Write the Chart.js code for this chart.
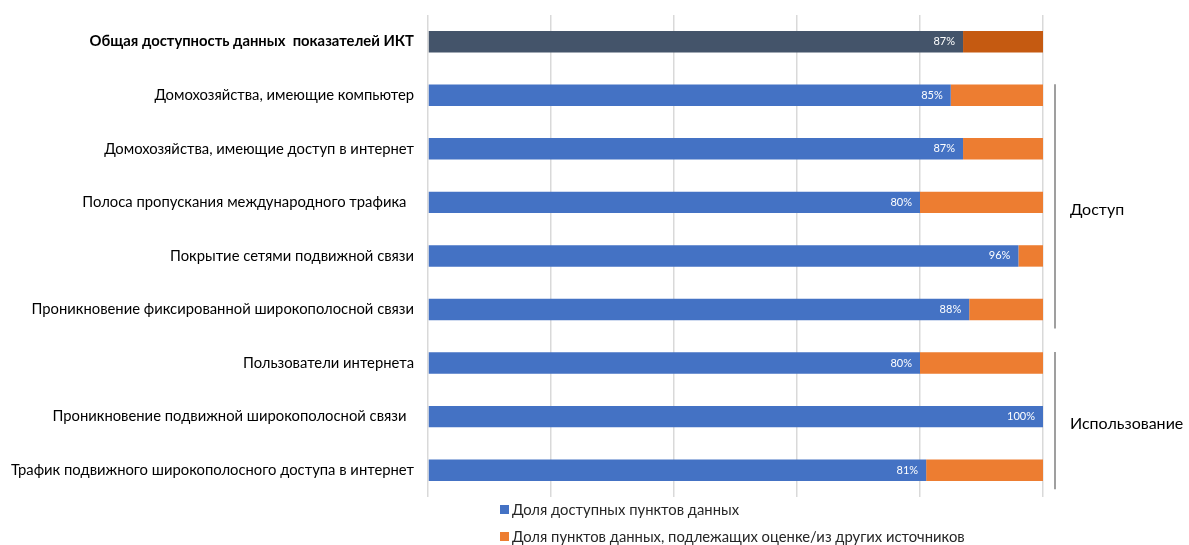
<!DOCTYPE html>
<html>
<head>
<meta charset="utf-8">
<script src="https://cdn.jsdelivr.net/npm/chart.js@4"></script>
<style>
  html, body { margin: 0; padding: 0; background: #fff; }
  #wrap { width: 1189px; height: 545px; }
</style>
</head>
<body>
<div id="wrap"><canvas id="ict_chart"></canvas></div>
<script>
labels = [
  'Общая доступность данных  показателей ИКТ',
  'Домохозяйства, имеющие компьютер',
  'Домохозяйства, имеющие доступ в интернет',
  'Полоса пропускания международного трафика  ',
  'Покрытие сетями подвижной связи',
  'Проникновение фиксированной широкополосной связи',
  'Пользователи интернета',
  'Проникновение подвижной широкополосной связи  ',
  'Трафик подвижного широкополосного доступа в интернет'
]
available = [87, 85, 87, 80, 96, 88, 80, 100, 81]
estimated = [13, 15, 13, 20, 4, 12, 20, 0, 19]
seriesNames = ['Доля доступных пунктов данных', 'Доля пунктов данных, подлежащих оценке/из других источников']
groups = [
  { text: 'Доступ', from: 1, to: 5 },
  { text: 'Использование', from: 6, to: 8 }
]

FONT = 'Lato, "Open Sans", sans-serif'

extras = {
  id: 'extras',
  afterDatasetsDraw(chart) {
    const c = chart.ctx
    const y = chart.scales.y
    // value labels inside the blue bars
    c.save()
    c.font = '11px ' + FONT
    c.fillStyle = '#ffffff'
    c.textAlign = 'right'
    c.textBaseline = 'middle'
    chart.getDatasetMeta(0).data.forEach((bar, i) => {
      c.fillText(available[i] + '%', bar.x - 8, bar.y)
    })
    // group brackets on the right
    c.strokeStyle = '#7f7f7f'
    c.lineWidth = 1.5
    c.fillStyle = '#000'
    c.textAlign = 'left'
    c.font = '16px ' + FONT
    groups.forEach(g => {
      const top = y.getPixelForValue(g.from) - 11
      const bot = y.getPixelForValue(g.to) + 19
      c.beginPath()
      c.moveTo(1055, top)
      c.lineTo(1055, bot)
      c.stroke()
      c.fillText(g.text, 1070, (top + bot) / 2 + 3)
    })
    // legend, one item per line
    c.font = '14.8px ' + FONT
    chart.data.datasets.forEach((ds, i) => {
      const ly = 510 + i * 27
      c.fillStyle = i === 0 ? '#4472C4' : '#ED7D31'
      c.fillRect(500, ly - 5, 9, 9)
      c.fillStyle = '#262626'
      c.fillText(seriesNames[i], 512, ly)
    })
    c.restore()
  }
}

config = {
  type: 'bar',
  data: {
    labels,
    datasets: [
      {
        label: seriesNames[0],
        data: available,
        backgroundColor: ['#44546A', '#4472C4', '#4472C4', '#4472C4', '#4472C4', '#4472C4', '#4472C4', '#4472C4', '#4472C4'],
        barPercentage: 0.8,
        categoryPercentage: 0.5
      },
      {
        label: seriesNames[1],
        data: estimated,
        backgroundColor: ['#C55A11', '#ED7D31', '#ED7D31', '#ED7D31', '#ED7D31', '#ED7D31', '#ED7D31', '#ED7D31', '#ED7D31'],
        barPercentage: 0.8,
        categoryPercentage: 0.5
      }
    ]
  },
  options: {
    indexAxis: 'y',
    responsive: true,
    maintainAspectRatio: false,
    animation: false,
    layout: { padding: { left: 0, right: 146, top: -8, bottom: 48 } },
    plugins: {
      legend: { display: false },
      tooltip: { enabled: false }
    },
    scales: {
      x: {
        stacked: true,
        min: 0,
        max: 100,
        ticks: { display: false, stepSize: 20 },
        grid: { color: '#d9d9d9', lineWidth: 1.5, drawTicks: false },
        border: { display: false }
      },
      y: {
        stacked: true,
        grid: { display: false },
        border: { display: false },
        afterFit(scale) { scale.width = 428 },
        ticks: {
          padding: 6,
          color: '#000',
          font: ctx => ({ family: FONT, size: 14.8, weight: ctx.index === 0 ? 'bold' : 'normal' })
        }
      }
    }
  },
  plugins: [extras]
}

new Chart(document.getElementById('ict_chart'), config)
</script>
</body>
</html>
